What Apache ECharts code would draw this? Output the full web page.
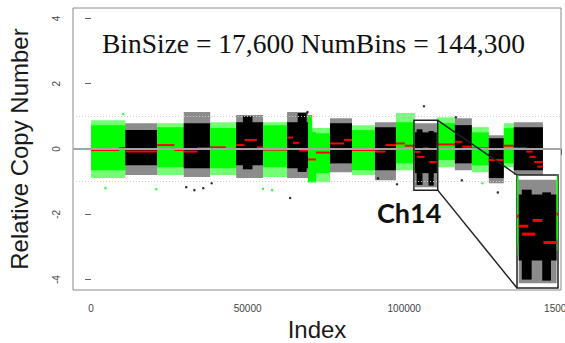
<!DOCTYPE html>
<html>
<head>
<meta charset="utf-8">
<script src="https://cdn.jsdelivr.net/npm/echarts@6/dist/echarts.min.js"></script>
<style>
  html, body { margin: 0; padding: 0; background: #fff; }
  #main { width: 565px; height: 343px; }
</style>
</head>
<body>
<div id="main"></div>
<script>
// chromosome blocks (bin index), alternating green / black
var chromStart = [0, 10940, 21140, 29590, 38040, 46330, 54940, 62600, 69290, 76310, 83330, 90660, 97360, 103420, 110440, 116180, 121600, 127020, 131810, 135000];
var chromEnd = [10940, 21140, 29590, 38040, 46330, 54940, 62600, 69290, 76310, 83330, 90660, 97360, 103420, 110440, 116180, 121600, 127020, 131810, 135000, 144300];
var chromGreen = [1, 0, 1, 0, 1, 0, 1, 0, 1, 0, 1, 0, 1, 0, 1, 0, 1, 0, 1, 0];
// dense part of each block
var coreHigh = [0.73, 0.58, 0.67, 0.79, 0.64, 0.82, 0.73, 0.82, 0.48, 0.79, 0.58, 0.67, 0.82, 0.51, 0.79, 0.73, 0.51, 0.33, 0.64, 0.67];
var coreLow = [-0.65, -0.50, -0.56, -0.59, -0.59, -0.50, -0.56, -0.59, -0.74, -0.44, -0.65, -0.65, -0.44, -0.74, -0.34, -0.44, -0.50, -0.89, -0.44, -0.65];
// sparse edge of each block
var fringeHigh = [0.88, 0.79, 0.79, 1.13, 0.82, 1.04, 0.82, 1.13, 0.64, 0.94, 0.73, 0.82, 1.10, 0.79, 0.97, 0.94, 0.67, 0.42, 0.79, 0.82];
var fringeLow = [-0.89, -0.80, -0.80, -0.86, -0.80, -0.89, -0.86, -0.89, -1.02, -0.71, -0.80, -0.96, -0.65, -1.17, -0.56, -0.65, -0.71, -1.05, -0.56, -0.80];
// narrow extra pieces: [start, end, low, high, green]
var extraBlocks = [
  [69290, 70600, -0.95, 1.04, 1],
  [69290, 71800, -1.02, 0.52, 1],
  [104000, 105800, -1.10, 0.60, 0],
  [107800, 109400, -1.12, 0.55, 0],
  [48500, 51500, -0.62, 1.00, 0],
  [66000, 68800, -0.70, 1.10, 0]
];
// segment means: [start, end, value]
var segments = [
  [0, 9000, -0.03], [9000, 10940, 0.03],
  [10940, 21140, -0.08],
  [21140, 26600, 0.12], [26600, 29590, -0.03],
  [29590, 34000, -0.08], [34000, 38040, 0.02],
  [38040, 43000, 0.05], [43000, 46330, 0.0],
  [46330, 49000, 0.12], [49000, 53000, 0.28], [53000, 54940, 0.05],
  [54940, 62600, -0.02],
  [62600, 64500, 0.35], [64500, 66500, 0.19], [66500, 69290, -0.05],
  [69290, 71800, -0.32], [71800, 76310, -0.11],
  [76310, 80800, 0.17], [80800, 83330, 0.28],
  [83330, 90660, -0.03],
  [90660, 94000, -0.08], [94000, 97360, 0.12],
  [97360, 100200, 0.17], [100200, 103420, 0.10],
  [103420, 105200, -0.09], [104000, 106500, -0.24], [106000, 107800, 0.02], [108000, 110440, -0.40],
  [110440, 116180, 0.14],
  [116180, 118500, 0.22], [118500, 121600, 0.07],
  [121600, 127020, 0.02],
  [127020, 131810, -0.34],
  [131810, 135000, 0.10],
  [135000, 139000, 0.02], [139000, 141000, -0.08], [140000, 142000, -0.24], [141500, 144300, -0.40], [142500, 144300, -0.54]
];
// stray points: [index, value, green]
var outliers = [
  [4590, -1.20, 1], [20830, -1.23, 1], [10300, 1.07, 1], [57800, -1.26, 1], [54900, -1.22, 1],
  [32970, -1.26, 0], [35840, -1.20, 0], [30390, -1.17, 0], [63560, -1.50, 0], [69100, 1.13, 0],
  [106300, 1.31, 0], [118420, -0.96, 0], [91620, -0.90, 0], [129900, -1.33, 0], [116500, 0.97, 0],
  [97700, -1.08, 0], [38500, -1.05, 0], [125000, -1.05, 1]
];
var xTicks = [0, 50000, 100000, 150000];
var yTicks = [-4, -2, 0, 2, 4];
var ch14Box = [103100, 110700, -1.26, 0.88];

var GREEN = '#00ff00';
var BLACK = '#000000';
var X_MIN = -5772, X_MAX = 150072;
var inset = { left: 517, top: 175, width: 41, height: 113 };

var bandData = chromStart.map(function (s, i) {
  return [s, chromEnd[i], fringeLow[i], coreLow[i], coreHigh[i], fringeHigh[i], chromGreen[i]];
});
var extraData = extraBlocks.map(function (b) {
  return [b[0], b[1], b[2], b[2], b[3], b[3], b[4]];
});

function clipRect(r, params) {
  return echarts.graphic.clipRectByRect(r, {
    x: params.coordSys.x, y: params.coordSys.y,
    width: params.coordSys.width, height: params.coordSys.height
  });
}

function renderBand(params, api) {
  var green = api.value(6);
  var col = green ? GREEN : BLACK;
  var f0 = api.coord([api.value(0), api.value(5)]);
  var f1 = api.coord([api.value(1), api.value(2)]);
  var c0 = api.coord([api.value(0), api.value(4)]);
  var c1 = api.coord([api.value(1), api.value(3)]);
  var fr = clipRect({ x: f0[0], y: f0[1], width: f1[0] - f0[0], height: f1[1] - f0[1] }, params);
  var cr = clipRect({ x: c0[0], y: c0[1], width: c1[0] - c0[0], height: c1[1] - c0[1] }, params);
  var kids = [];
  if (fr) kids.push({ type: 'rect', shape: fr, style: { fill: col, opacity: green ? 0.55 : 0.45 } });
  if (cr) kids.push({ type: 'rect', shape: cr, style: { fill: col } });
  return { type: 'group', children: kids };
}

function renderSegment(width) {
  return function (params, api) {
    var a = api.coord([api.value(0), api.value(2)]);
    var b = api.coord([api.value(1), api.value(2)]);
    var cs = params.coordSys;
    var x0 = Math.max(a[0], cs.x), x1 = Math.min(b[0], cs.x + cs.width);
    if (x1 <= x0) return null;
    return {
      type: 'line',
      shape: { x1: x0, y1: a[1], x2: x1, y2: a[1] },
      style: { stroke: '#ff0000', lineWidth: width }
    };
  };
}

function renderBox(params, api) {
  var tl = api.coord([ch14Box[0], ch14Box[3]]);
  var br = api.coord([ch14Box[1], ch14Box[2]]);
  return {
    type: 'group',
    children: [
      { type: 'rect', shape: { x: tl[0], y: tl[1], width: br[0] - tl[0], height: br[1] - tl[1] },
        style: { fill: 'none', stroke: '#222', lineWidth: 1.5 } },
      { type: 'line', shape: { x1: br[0], y1: tl[1], x2: inset.left, y2: inset.top },
        style: { stroke: '#222', lineWidth: 1.5 } },
      { type: 'line', shape: { x1: br[0], y1: br[1], x2: inset.left, y2: inset.top + inset.height },
        style: { stroke: '#222', lineWidth: 1.5 } }
    ]
  };
}

var chart = echarts.init(document.getElementById('main'), null, { renderer: 'svg' });

var option = {
  animation: false,
  textStyle: { fontFamily: 'Liberation Sans' },
  grid: [
    { left: 73, right: 4, top: 8, bottom: 53, show: true, borderColor: '#8a8a8a', borderWidth: 1,
      outerBoundsMode: 'none', containLabel: false },
    { left: inset.left, top: inset.top, width: inset.width, height: inset.height, show: true,
      backgroundColor: '#fff', borderColor: '#222', borderWidth: 1.5, z: 3, outerBoundsMode: 'none' }
  ],
  xAxis: [
    {
      type: 'value', gridIndex: 0, min: X_MIN, max: X_MAX,
      name: 'Index', nameLocation: 'middle', nameGap: 26,
      nameTextStyle: { fontSize: 24, color: '#1a1a1a', fontFamily: 'Liberation Sans' },
      axisLine: { show: false },
      splitLine: { show: false },
      axisTick: { show: true, inside: false, length: 6, lineStyle: { color: '#666' }, customValues: xTicks },
      axisLabel: { fontSize: 10, color: '#444', margin: 13, customValues: xTicks,
        formatter: function (v) { return String(v); } }
    },
    { type: 'value', gridIndex: 1, min: ch14Box[0], max: ch14Box[1], show: false }
  ],
  yAxis: [
    {
      type: 'value', gridIndex: 0, min: -4.32, max: 4.32,
      name: 'Relative Copy Number', nameLocation: 'middle', nameGap: 42,
      nameTextStyle: { fontSize: 24, color: '#1a1a1a', fontFamily: 'Liberation Sans' },
      axisLine: { show: false },
      splitLine: { show: false },
      axisTick: { show: true, length: 6, lineStyle: { color: '#666' }, customValues: yTicks },
      axisLabel: { fontSize: 10, color: '#444', margin: 12, rotate: 90, customValues: yTicks }
    },
    { type: 'value', gridIndex: 1, min: ch14Box[2], max: ch14Box[3], show: false }
  ],
  graphic: [
    { type: 'text', x: 102, y: 29, z: 10,
      style: { text: 'BinSize = 17,600 NumBins = 144,300', font: '27.5px "Liberation Serif"', fill: '#111' } },
    { type: 'text', x: 377, y: 199, z: 10,
      style: { text: 'Ch14', font: 'bold 27px Lato', fill: '#111' } }
  ],
  series: [
    {
      type: 'custom', xAxisIndex: 0, yAxisIndex: 0, renderItem: renderBand, data: bandData, z: 2,
      markLine: {
        silent: true, symbol: 'none', label: { show: false },
        data: [
          { yAxis: 0, lineStyle: { color: '#a5a5a5', width: 2, type: 'solid' } },
          [{ coord: [X_MIN, 1], lineStyle: { color: '#cccccc', width: 1, type: [1, 2] } }, { coord: [X_MAX, 1] }],
          [{ coord: [X_MIN, -1], lineStyle: { color: '#cccccc', width: 1, type: [1, 2] } }, { coord: [134500, -1] }]
        ]
      }
    },
    { type: 'custom', xAxisIndex: 0, yAxisIndex: 0, renderItem: renderBand, data: extraData, z: 1 },
    {
      type: 'scatter', xAxisIndex: 0, yAxisIndex: 0, symbolSize: 2.5, z: 2,
      data: outliers,
      itemStyle: { color: function (p) { return p.data[2] ? GREEN : BLACK; } }
    },
    { type: 'custom', xAxisIndex: 0, yAxisIndex: 0, renderItem: renderSegment(2), data: segments, z: 4 },
    { type: 'custom', xAxisIndex: 0, yAxisIndex: 0, renderItem: renderBox, data: [[0]], z: 5 },
    // zoomed view of chromosome 14
    {
      type: 'custom', xAxisIndex: 1, yAxisIndex: 1, renderItem: renderBand, data: bandData.concat(extraData), z: 6,
      markLine: {
        silent: true, symbol: 'none', label: { show: false },
        data: [{ yAxis: 0, lineStyle: { color: '#a5a5a5', width: 2, type: 'solid' } }]
      }
    },
    { type: 'custom', xAxisIndex: 1, yAxisIndex: 1, renderItem: renderSegment(3), data: segments, z: 7 }
  ]
};

chart.setOption(option);
</script>
</body>
</html>
